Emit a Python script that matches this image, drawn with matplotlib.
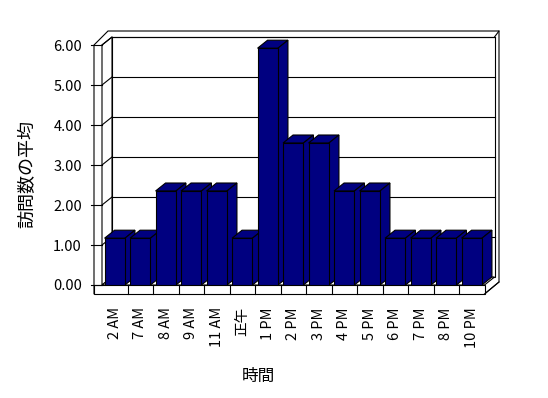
import matplotlib
matplotlib.use("Agg")

import matplotlib.pyplot as plt
from matplotlib.patches import Polygon, Rectangle

plt.rcParams['font.family'] = ['Noto Sans CJK JP', 'DejaVu Sans']

# data
hours = ["2 AM", "7 AM", "8 AM", "9 AM", "11 AM", "正午", "1 PM", "2 PM",
         "3 PM", "4 PM", "5 PM", "6 PM", "7 PM", "8 PM", "10 PM"]
visits = [1.17, 1.17, 2.35, 2.35, 2.35, 1.17, 5.92, 3.55,
          3.55, 2.35, 2.35, 1.17, 1.17, 1.17, 1.17]
yticks = [0, 1, 2, 3, 4, 5, 6]
ylabels = ["0.00", "1.00", "2.00", "3.00", "4.00", "5.00", "6.00"]

W, H = 548, 398
# front plane of the plot in pixels
L, R, T, B = 102, 484.5, 45, 285
n = len(hours)
ux = (R - L) / n
uy = (B - T) / 6.0

def dx(p):
    return p / ux

def dy(p):
    return p / uy

DX, DY = dx(10), dy(8)      # depth of walls / bars
TX, TF = dx(8), dy(9)       # thickness of left wall, floor
TT, TR = dy(6), dx(4.5)     # back wall thickness (top, right)

fig = plt.figure(figsize=(W / 100, H / 100), dpi=100)
ax = fig.add_axes([L / W, 1 - B / H, (R - L) / W, (B - T) / H])
ax.set_xlim(-0.5, n - 0.5)
ax.set_ylim(0, 6)
for s in ax.spines.values():
    s.set_visible(False)
ax.patch.set_visible(False)

x0, x1, y0, y1 = -0.5, n - 0.5, 0, 6
ec = "black"
lw = 0.8
kw = dict(clip_on=False, edgecolor=ec, linewidth=lw, facecolor="white")

# outer silhouette of walls + floor
outer = [(x0 - TX, -TF), (x0 - TX, y1), (x0 + DX - dx(4), y1 + DY + TT),
         (x1 + DX + TR, y1 + DY + TT), (x1 + DX + TR, -TF + DY + dy(4)),
         (x1, -TF)]
ax.add_patch(Polygon(outer, zorder=1, **kw))
# back wall
ax.add_patch(Rectangle((x0 + DX, y0 + DY), x1 - x0, y1 - y0, zorder=2, **kw))
# left wall
ax.add_patch(Polygon([(x0, y0), (x0, y1), (x0 + DX, y1 + DY), (x0 + DX, y0 + DY)],
                     zorder=2, **kw))
# floor
ax.add_patch(Polygon([(x0, y0), (x1, y0), (x1 + DX, y0 + DY), (x0 + DX, y0 + DY)],
                     zorder=2, **kw))
ax.add_patch(Rectangle((x0 - TX, -TF), x1 - x0 + TX, TF, zorder=2, **kw))
ax.plot([x1 + DX, x1 + DX + TR], [y1 + DY, y1 + DY + TT], color=ec, lw=lw,
        clip_on=False, zorder=2)
ax.plot([x1, x1 + DX + TR], [-TF, -TF + DY + dy(4)], color=ec, lw=lw,
        clip_on=False, zorder=2)

# gridlines and ticks
for v in yticks[1:]:
    ax.plot([x0 + DX, x1 + DX], [v + DY, v + DY], color=ec, lw=lw, clip_on=False, zorder=3)
    ax.plot([x0, x0 + DX], [v, v + DY], color=ec, lw=lw, clip_on=False, zorder=3)
for v in yticks:
    ax.plot([x0 - TX - dx(3), x0], [v, v], color=ec, lw=lw, clip_on=False, zorder=3)
for i in range(1, n):
    ax.plot([i - 0.5, i - 0.5], [-TF, 0], color=ec, lw=lw, clip_on=False, zorder=3)

# bars
bw = 0.8
navy = "#000080"
for i, v in enumerate(visits):
    z = 10 + i
    ax.bar(i, v, width=bw, color=navy, edgecolor=ec, linewidth=lw, zorder=z + 0.5)
    l, r = i - bw / 2, i + bw / 2
    ax.add_patch(Polygon([(l, v), (r, v), (r + DX, v + DY), (l + DX, v + DY)],
                         closed=True, facecolor=navy, edgecolor=ec, linewidth=lw,
                         zorder=z, clip_on=False))
    ax.add_patch(Polygon([(r, 0), (r, v), (r + DX, v + DY), (r + DX, DY)],
                         closed=True, facecolor=navy, edgecolor=ec, linewidth=lw,
                         zorder=z, clip_on=False))

ax.set_yticks(yticks)
ax.set_yticklabels(ylabels)
ax.set_xticks(range(n))
ax.set_xticklabels(hours, rotation=90, va="top", ha="center")
ax.tick_params(axis="y", length=0, pad=14.4, labelsize=10.5)
ax.tick_params(axis="x", length=0, pad=16, labelsize=10.5)

fig.text(27 / W, 1 - 174 / H, "訪問数の平均", rotation=90, ha="center", va="center",
         fontsize=13)
fig.text(258 / W, 1 - 376 / H, "時間", ha="center", va="center", fontsize=12)

fig.savefig("out.png", dpi=100)
